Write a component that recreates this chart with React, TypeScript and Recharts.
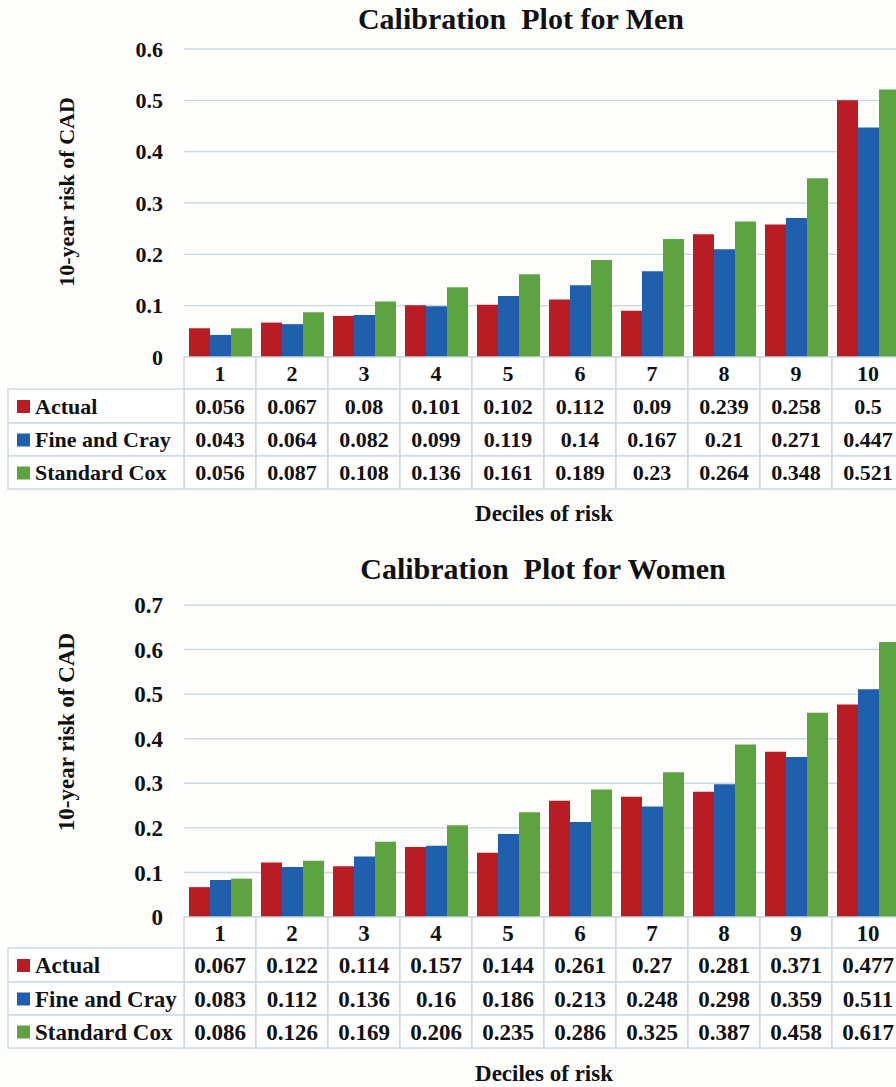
import React from "react";
import { BarChart, Bar, XAxis, YAxis, CartesianGrid } from "recharts";

const DECILES = ["1", "2", "3", "4", "5", "6", "7", "8", "9", "10"];
const SERIES_NAMES = ["Actual", "Fine and Cray", "Standard Cox"];
const SERIES_COLORS = ["#b81d24", "#1f5fae", "#5ea341"];

const MEN_ACTUAL = [0.056, 0.067, 0.08, 0.101, 0.102, 0.112, 0.09, 0.239, 0.258, 0.5];
const MEN_FINE_GRAY = [0.043, 0.064, 0.082, 0.099, 0.119, 0.14, 0.167, 0.21, 0.271, 0.447];
const MEN_COX = [0.056, 0.087, 0.108, 0.136, 0.161, 0.189, 0.23, 0.264, 0.348, 0.521];
const MEN_TICKS = [0, 0.1, 0.2, 0.3, 0.4, 0.5, 0.6];

const WOMEN_ACTUAL = [0.067, 0.122, 0.114, 0.157, 0.144, 0.261, 0.27, 0.281, 0.371, 0.477];
const WOMEN_FINE_GRAY = [0.083, 0.112, 0.136, 0.16, 0.186, 0.213, 0.248, 0.298, 0.359, 0.511];
const WOMEN_COX = [0.086, 0.126, 0.169, 0.206, 0.235, 0.286, 0.325, 0.387, 0.458, 0.617];
const WOMEN_TICKS = [0, 0.1, 0.2, 0.3, 0.4, 0.5, 0.6, 0.7];

const FONT = "'Liberation Serif', 'Times New Roman', Tinos, serif";
const GRID = "#c9d8e3";
const CHART_W = 920;
const Y_AXIS_W = 184;
const LEGEND_W = 176;
const KEYS = ["actual", "fine", "cox"];

type PanelProps = {
  title: string;
  titleX: number;
  titleY: number;
  titleSize: number;
  series: number[][];
  ticks: number[];
  height: number;
  top: number;
  bottom: number;
  rowH: number[];
  fontSize: number;
  labelY: number;
  xTitleY: number;
};

function Panel(p: PanelProps) {
  const data = DECILES.map((d, i) => ({
    decile: d,
    actual: p.series[0][i],
    fine: p.series[1][i],
    cox: p.series[2][i],
  }));
  const band = (CHART_W - Y_AXIS_W - 16) / DECILES.length;
  const txt = { style: { fontFamily: FONT, fontWeight: 700 }, fill: "#111" };

  const headerTick = (t: any) => {
    const half = t.payload?.offset || band / 2;
    return (
      <g>
        <rect x={t.x - half} y={t.y} width={half * 2} height={p.rowH[0]} fill="#fff" stroke={GRID} strokeWidth={1.4} />
        <text x={t.x} y={t.y + p.rowH[0] / 2} dy="0.355em" textAnchor="middle" fontSize={p.fontSize} {...txt}>
          {t.payload.value}
        </text>
      </g>
    );
  };

  const rowTick = (s: number) => (t: any) => {
    const half = t.payload?.offset || band / 2;
    const h = p.rowH[s + 1];
    const left = t.x - half - LEGEND_W;
    return (
      <g>
        <rect x={t.x - half} y={t.y} width={half * 2} height={h} fill="#fff" stroke={GRID} strokeWidth={1.4} />
        <text x={t.x} y={t.y + h / 2} dy="0.355em" textAnchor="middle" fontSize={p.fontSize} {...txt}>
          {String(p.series[s][t.index])}
        </text>
        {t.index === 0 ? (
          <g>
            <rect x={left} y={t.y} width={LEGEND_W} height={h} fill="#fff" stroke={GRID} strokeWidth={1.4} />
            <rect x={left + 9} y={t.y + h / 2 - 6} width={13} height={13} fill={SERIES_COLORS[s]} />
            <text x={left + 27} y={t.y + h / 2} dy="0.355em" fontSize={p.fontSize} {...txt}>
              {SERIES_NAMES[s]}
            </text>
          </g>
        ) : null}
      </g>
    );
  };

  return (
    <BarChart
      width={CHART_W}
      height={p.height}
      data={data}
      margin={{ top: p.top, right: 16, bottom: p.bottom, left: 0 }}
      barGap={0}
      barCategoryGap={5}
    >
      <CartesianGrid vertical={false} stroke={GRID} strokeWidth={1.4} />
      <XAxis xAxisId="r0" dataKey="decile" height={p.rowH[0]} interval={0} axisLine={false} tickLine={false} tickSize={0} tickMargin={0} tick={headerTick} />
      {KEYS.map((k, s) => (
        <XAxis
          key={k}
          xAxisId={"r" + (s + 1)}
          dataKey="decile"
          height={p.rowH[s + 1]}
          interval={0}
          axisLine={false}
          tickLine={false}
          tickSize={0}
          tickMargin={0}
          tick={rowTick(s)}
        />
      ))}
      <YAxis
        width={Y_AXIS_W}
        domain={[0, p.ticks[p.ticks.length - 1]]}
        ticks={p.ticks}
        interval={0}
        axisLine={false}
        tickLine={false}
        tickSize={0}
        tickMargin={21}
        tickFormatter={(v: number) => String(v)}
        tick={{ fontSize: p.fontSize, style: { fontFamily: FONT, fontWeight: 700 }, fill: "#111" }}
      />
      {KEYS.map((k, s) => (
        <Bar key={k} xAxisId="r0" dataKey={k} name={SERIES_NAMES[s]} fill={SERIES_COLORS[s]} isAnimationActive={false} />
      ))}
      <text x={p.titleX} y={p.titleY} textAnchor="middle" fontSize={p.titleSize} style={{ whiteSpace: "pre", fontFamily: FONT, fontWeight: 700 }} fill="#111">
        {p.title}
      </text>
      <text
        x={66}
        y={p.labelY}
        transform={`rotate(-90 66 ${p.labelY})`}
        textAnchor="middle"
        dy="0.355em"
        fontSize={p.fontSize}
        {...txt}
      >
        10-year risk of CAD
      </text>
      <text x={544} y={p.xTitleY} textAnchor="middle" fontSize={23} {...txt}>
        Deciles of risk
      </text>
    </BarChart>
  );
}

export default function App() {
  return (
    <div style={{ position: "absolute", left: 0, top: 0, width: 896, height: 1087, overflow: "hidden", background: "#fdfdfc" }}>
      <div style={{ position: "absolute", left: 0, top: 0 }}>
        <Panel
          title="Calibration  Plot for Men"
          titleX={521}
          titleY={29}
          titleSize={30}
          series={[MEN_ACTUAL, MEN_FINE_GRAY, MEN_COX]}
          ticks={MEN_TICKS}
          height={540}
          top={49}
          bottom={51}
          rowH={[32, 34, 33, 33]}
          fontSize={22}
          labelY={192}
          xTitleY={521}
        />
      </div>
      <div style={{ position: "absolute", left: 0, top: 540 }}>
        <Panel
          title="Calibration  Plot for Women"
          titleX={543}
          titleY={39}
          titleSize={30}
          series={[WOMEN_ACTUAL, WOMEN_FINE_GRAY, WOMEN_COX]}
          ticks={WOMEN_TICKS}
          height={547}
          top={65}
          bottom={39}
          rowH={[31, 34, 33, 33]}
          fontSize={23}
          labelY={192}
          xTitleY={541}
        />
      </div>
    </div>
  );
}
